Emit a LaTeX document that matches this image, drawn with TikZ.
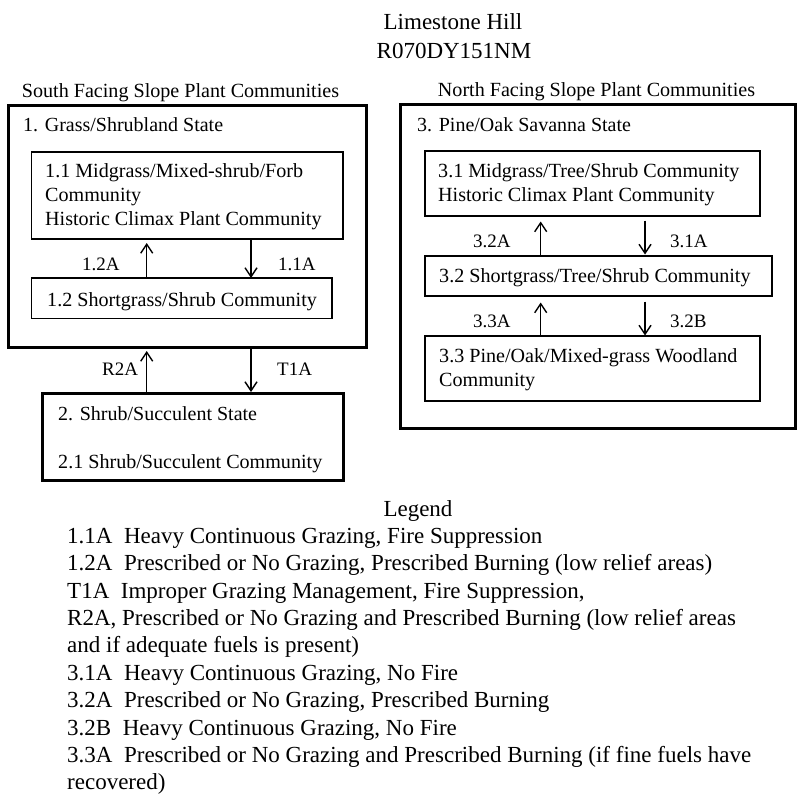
\documentclass[tikz,border=0pt]{standalone}
\usepackage{fontspec}
\setmainfont{Liberation Serif}
\usetikzlibrary{arrows.meta}
\begin{document}
\begin{tikzpicture}[x=1pt,y=-1pt,
  statebox/.style={draw, line width=3pt, inner sep=0pt, outer sep=0pt, anchor=north west},
  commbox/.style={draw, line width=1.5pt, inner sep=0pt, outer sep=0pt, anchor=north west},
  txt/.style={anchor=base west, inner sep=0pt, font=\fontsize{20.1}{23}\selectfont},
  head/.style={anchor=base, inner sep=0pt, font=\fontsize{20.1}{23}\selectfont},
  stitle/.style={anchor=base west, inner sep=0pt, font=\fontsize{20}{23}\selectfont},
  lab/.style={anchor=base west, inner sep=0pt, font=\fontsize{19}{23}\selectfont},
  big/.style={anchor=base, inner sep=0pt, font=\fontsize{23}{27}\selectfont},
  leg/.style={anchor=base west, inner sep=0pt, font=\fontsize{23}{27}\selectfont},
  arr/.style={-{Straight Barb[length=9pt,width=12pt]}, line width=1.4pt}]
\useasboundingbox (0,0) rectangle (800,803);
\fill[white] (0,0) rectangle (800,803);

% titles
\node[big] (t1) at (453,29.3) {Limestone Hill};
\node[big] (t2) at (454,58.3) {R070DY151NM};
\node[head] (hs) at (180.5,97) {South Facing Slope Plant Communities};
\node[head] (hn) at (596.5,96.7) {North Facing Slope Plant Communities};

% boxes
\node[statebox, minimum width=357.5pt, minimum height=242pt] (s1) at (8.5,105) {};
\node[commbox, minimum width=311.5pt, minimum height=87pt] (b11) at (31.5,152) {};
\node[commbox, minimum width=300.5pt, minimum height=40.5pt] (b12) at (31.5,278) {};
\node[statebox, minimum width=301pt, minimum height=87pt] (s2) at (42,393.5) {};
\node[statebox, minimum width=395pt, minimum height=324pt] (s3) at (400.5,104) {};
\node[commbox, minimum width=335pt, minimum height=65pt] (b31) at (425,151) {};
\node[commbox, minimum width=347pt, minimum height=40pt] (b32) at (425,256) {};
\node[commbox, minimum width=335pt, minimum height=65pt] (b33) at (425,336) {};

% box texts
\node[stitle] (s1t) at (23,131.7) {1. Grass/Shrubland State};
\node[txt] (b11a) at (45,177.7) {1.1 Midgrass/Mixed-shrub/Forb};
\node[txt] (b11b) at (45,201) {Community};
\node[txt] (b11c) at (45,225) {Historic Climax Plant Community};
\node[txt] (b12t) at (47,306) {1.2 Shortgrass/Shrub Community};
\node[stitle] (s2t) at (58,420.7) {2. Shrub/Succulent State};
\node[txt] (s2c) at (58,468) {2.1 Shrub/Succulent Community};
\node[stitle] (s3t) at (417,131.7) {3. Pine/Oak Savanna State};
\node[txt] (b31a) at (438,177.7) {3.1 Midgrass/Tree/Shrub Community};
\node[txt] (b31b) at (438,201) {Historic Climax Plant Community};
\node[txt] (b32t) at (439,282.3) {3.2 Shortgrass/Tree/Shrub Community};
\node[txt] (b33a) at (439,362.7) {3.3 Pine/Oak/Mixed-grass Woodland};
\node[txt] (b33b) at (439,386) {Community};

% arrow columns
\coordinate (xa) at (146.7,0);
\coordinate (xb) at (251,0);
\coordinate (xc) at (540.7,0);
\coordinate (xd) at (645,0);

% arrows
\draw[arr, shorten >=4pt] (b12.north -| xa) -- (b11.south -| xa);
\draw[arr, shorten <=1pt] (b11.south -| xb) -- (b12.north -| xb);
\draw[arr, shorten >=4pt] (s2.north -| xa) -- (s1.south -| xa);
\draw[arr, shorten >=1.5pt] (s1.south -| xb) -- (s2.north -| xb);
\draw[arr, shorten >=5.5pt] (b32.north -| xc) -- (b31.south -| xc);
\draw[arr, shorten <=4.5pt, shorten >=1.5pt] (b31.south -| xd) -- (b32.north -| xd);
\draw[arr, shorten >=6.5pt] (b33.north -| xc) -- (b32.south -| xc);
\draw[arr, shorten <=5.5pt, shorten >=0.5pt] (b32.south -| xd) -- (b33.north -| xd);

% arrow labels
\node[lab] (l12) at (82,270.7) {1.2A};
\node[lab] (l11) at (278,270.7) {1.1A};
\node[lab] (lr2) at (102,375) {R2A};
\node[lab] (lt1) at (277,375) {T1A};
\node[lab] (l32) at (473,247.3) {3.2A};
\node[lab] (l31) at (670,247.3) {3.1A};
\node[lab] (l33) at (473,327.7) {3.3A};
\node[lab] (l3b) at (670,327.7) {3.2B};

% legend
\node[big] (lg) at (418,516.7) {Legend};
\node[leg] (g1) at (67,543.3) {1.1A\ \ Heavy Continuous Grazing, Fire Suppression};
\node[leg] (g2) at (67,570.7) {1.2A\ \ Prescribed or No Grazing, Prescribed Burning (low relief areas)};
\node[leg] (g3) at (67,598.1) {T1A\ \ Improper Grazing Management, Fire Suppression,};
\node[leg] (g4) at (67,625.5) {R2A, Prescribed or No Grazing and Prescribed Burning (low relief areas};
\node[leg] (g5) at (67,652.9) {and if adequate fuels is present)};
\node[leg] (g6) at (67,680.3) {3.1A\ \ Heavy Continuous Grazing, No Fire};
\node[leg] (g7) at (67,707.7) {3.2A\ \ Prescribed or No Grazing, Prescribed Burning};
\node[leg] (g8) at (67,735.1) {3.2B\ \ Heavy Continuous Grazing, No Fire};
\node[leg] (g9) at (67,762.5) {3.3A\ \ Prescribed or No Grazing and Prescribed Burning (if fine fuels have};
\node[leg] (g10) at (67,789.9) {recovered)};
\end{tikzpicture}
\end{document}
